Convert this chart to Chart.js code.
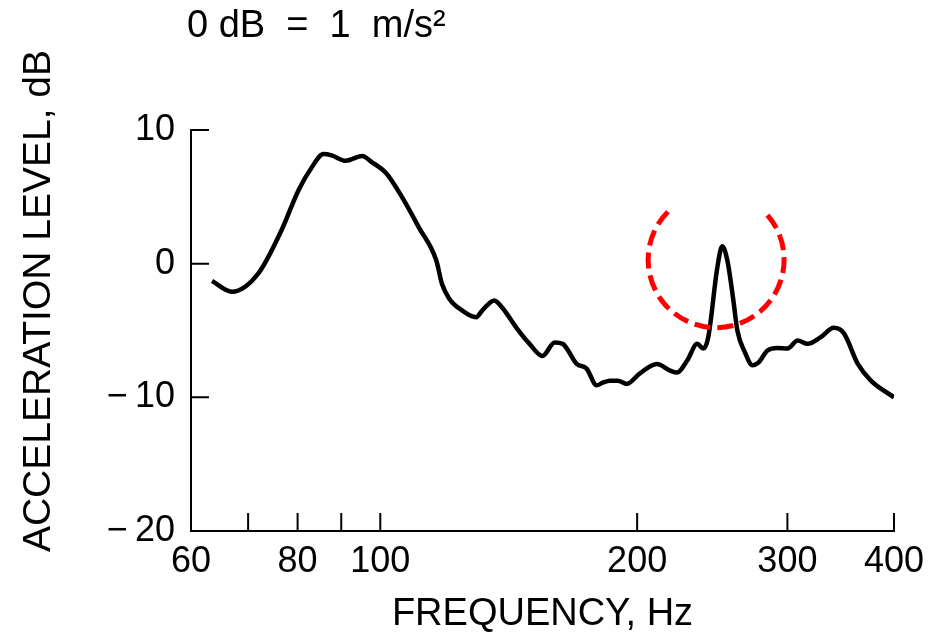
<!DOCTYPE html>
<html>
<head>
<meta charset="utf-8">
<script src="https://cdn.jsdelivr.net/npm/chart.js@4"></script>
<style>
  html, body { margin: 0; padding: 0; background: #fff; }
  .wrap { width: 940px; height: 635px; position: relative; }
</style>
</head>
<body>
<div class="wrap"><canvas id="myChart"></canvas></div>
<script>
// frequency (Hz) and acceleration level (dB)
const freq = [
  63.5, 67, 72, 76.6, 80.2, 83.1, 85.8, 87.7, 91.1, 95.2, 97.7, 101.5, 106, 111,
  116.3, 118.1, 120.4, 124.7, 129.5, 131.7, 136, 139, 144.4, 149.6, 154.9, 160.1,
  163.6, 169.9, 174.5, 179.3, 182.3, 185.8, 189.8, 194.5, 201.5, 211, 218.6, 222.8,
  228.9, 235.2, 239.1, 242.3, 248.3, 251.6, 255.1, 259.3, 262.1, 267.8, 273, 277.4,
  284.3, 292.1, 300.1, 308.4, 316.9, 328.2, 340, 349.3, 362.8, 375.8, 400,
];
const level = [
  -1.3, -2.1, -0.7, 2.5, 5.5, 7.2, 8.2, 8.1, 7.7, 8.05, 7.6, 6.8, 5.0, 2.7,
  0.25, -1.5, -2.6, -3.5, -4.0, -3.5, -2.75, -3.3, -4.8, -6.0, -6.9, -5.9,
  -6.0, -7.5, -7.85, -9.1, -8.9, -8.75, -8.75, -9.0, -8.2, -7.5, -8.0, -8.15,
  -7.25, -6.0, -6.35, -5.5, -0.3, 1.3, 0.25, -2.75, -5.0, -6.7, -7.6, -7.4,
  -6.5, -6.3, -6.35, -5.75, -6.0, -5.5, -4.8, -5.2, -7.5, -8.75, -10.0,
];

// axis ticks
const xTickValues = [60, 70, 80, 90, 100, 200, 300, 400];
const xTickLabels = [60, 80, 100, 200, 300, 400];
const yTickValues = [10, 0, -10, -20];

// highlighted peak (data coords)
const markHz = 247.5;
const markDb = 0.3;

const font = "'Liberation Sans', Arial, Helvetica, sans-serif";

// short inward ticks, top note, y title and the red dashed circle
const extras = {
  id: "extras",
  afterDraw(chart) {
    const { ctx, chartArea } = chart;
    const x = chart.scales.x;
    const y = chart.scales.y;
    ctx.save();
    ctx.strokeStyle = "#000";
    ctx.lineWidth = 2;
    ctx.beginPath();
    x.ticks.forEach((t) => {
      if (t.value === 60) return;
      const px = x.getPixelForValue(t.value);
      ctx.moveTo(px, chartArea.bottom);
      ctx.lineTo(px, chartArea.bottom - 18);
    });
    y.ticks.forEach((t) => {
      if (t.value === -20) return;
      const py = y.getPixelForValue(t.value);
      ctx.moveTo(chartArea.left, py);
      ctx.lineTo(chartArea.left + 18, py);
    });
    ctx.stroke();

    // red circle round the peak
    const cx = x.getPixelForValue(markHz);
    const cy = y.getPixelForValue(markDb);
    ctx.strokeStyle = "#ff0000";
    ctx.lineWidth = 5;
    ctx.setLineDash([16, 7]);
    ctx.beginPath();
    ctx.arc(cx, cy, 68, (-41 * Math.PI) / 180, (226 * Math.PI) / 180);
    ctx.stroke();
    ctx.setLineDash([]);

    // texts
    ctx.fillStyle = "#000";
    ctx.font = "38px " + font;
    ctx.textAlign = "left";
    ctx.textBaseline = "middle";
    ctx.fillText("0 dB  =  1  m/s²", 187, 27);

    ctx.translate(39, 301);
    ctx.rotate(-Math.PI / 2);
    ctx.textAlign = "center";
    ctx.font = "39px " + font;
    ctx.fillText("ACCELERATION LEVEL, dB", 0, 0);
    ctx.restore();
  },
};

new Chart(document.getElementById("myChart"), {
  type: "line",
  data: {
    datasets: [
      {
        data: freq.map((f, i) => ({ x: f, y: level[i] })),
        borderColor: "#000",
        borderWidth: 4.5,
        pointRadius: 0,
        fill: false,
        cubicInterpolationMode: "monotone",
      },
    ],
  },
  options: {
    responsive: true,
    maintainAspectRatio: false,
    animation: false,
    layout: {
      padding: { top: 130, right: 46, left: 0, bottom: 0 },
    },
    plugins: {
      legend: { display: false },
      tooltip: { enabled: false },
    },
    scales: {
      x: {
        type: "logarithmic",
        min: 60,
        max: 400,
        afterBuildTicks(scale) {
          scale.ticks = xTickValues.map((v) => ({ value: v }));
        },
        afterFit(scale) {
          scale.height = 104;
        },
        grid: { display: false, drawTicks: false },
        border: { display: true, color: "#000", width: 2 },
        ticks: {
          autoSkip: false,
          maxRotation: 0,
          padding: 9,
          color: "#000",
          font: { family: font, size: 36 },
          callback(value) {
            return xTickLabels.includes(value) ? String(value) : "";
          },
        },
        title: {
          display: true,
          text: "FREQUENCY, Hz",
          color: "#000",
          font: { family: font, size: 38, lineHeight: 1 },
          padding: { top: 0, bottom: 1 },
        },
      },
      y: {
        min: -20,
        max: 10,
        afterBuildTicks(scale) {
          scale.ticks = yTickValues.map((v) => ({ value: v }));
        },
        afterFit(scale) {
          scale.width = 191;
        },
        grid: { display: false, drawTicks: false },
        border: { display: true, color: "#000", width: 2 },
        ticks: {
          padding: 16,
          color: "#000",
          font: { family: font, size: 36 },
          callback(value) {
            return value < 0 ? "\u2212\u2009" + Math.abs(value) : String(value);
          },
        },
      },
    },
  },
  plugins: [extras],
});
</script>
</body>
</html>
